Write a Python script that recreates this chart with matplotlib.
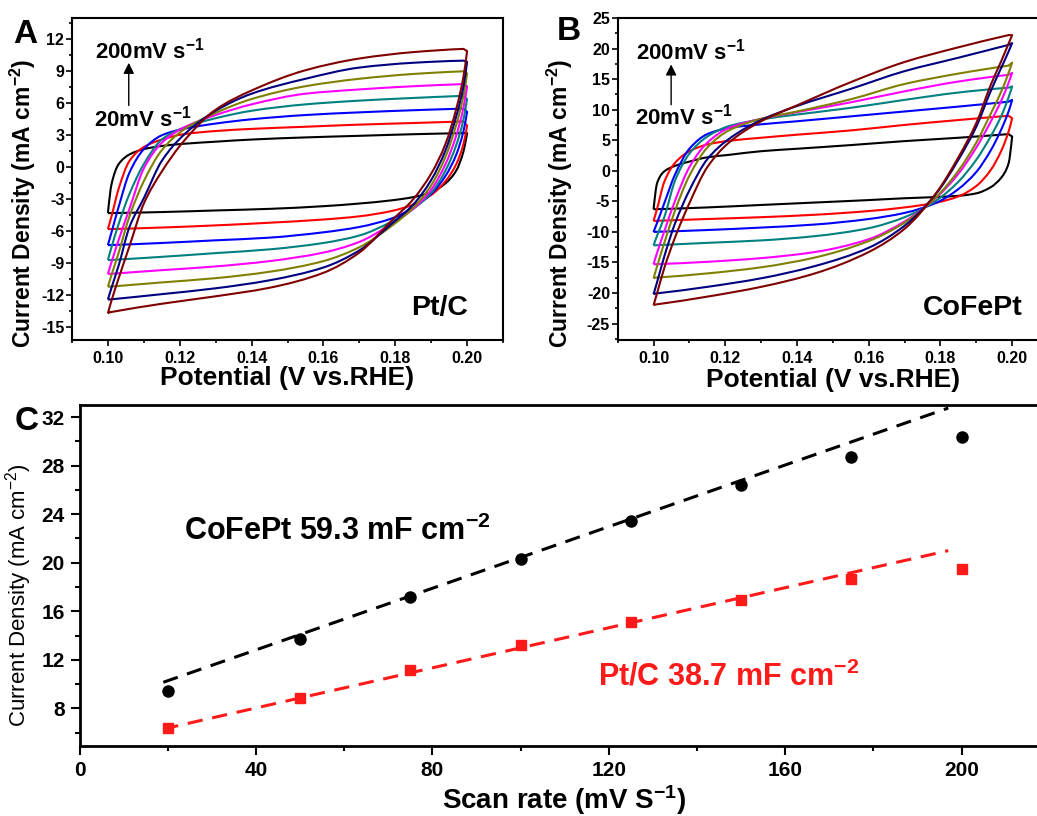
import numpy as np
import matplotlib
matplotlib.use("Agg")
import matplotlib.pyplot as plt
from matplotlib.ticker import MultipleLocator, FormatStrFormatter
from matplotlib.path import Path
from matplotlib.patches import PathPatch

plt.rcParams['font.family'] = ['Liberation Sans', 'DejaVu Sans']
plt.rcParams['axes.unicode_minus'] = False
plt.rcParams['mathtext.fontset'] = 'custom'
plt.rcParams['mathtext.rm'] = 'Liberation Sans'
plt.rcParams['mathtext.bf'] = 'Liberation Sans:bold'
plt.rcParams['mathtext.default'] = 'regular'

# ---------------- data ----------------
scan_rates_cv = [20, 50, 75, 100, 125, 150, 175, 200]
cv_colors = ['#000000', '#ff0000', '#0000ff', '#008080',
             '#ff00ff', '#808000', '#000080', '#800000']

# potentials (V vs RHE) at which the curves were read
E_anodic = [0.100, 0.101, 0.103, 0.106, 0.110, 0.115, 0.121, 0.130,
            0.140, 0.155, 0.170, 0.185, 0.199]
E_cathodic = [0.200, 0.199, 0.197, 0.194, 0.190, 0.185, 0.179, 0.170,
              0.160, 0.145, 0.130, 0.115, 0.1005]

# Pt/C current densities (mA cm-2), one row per scan rate
ptc_anodic = [
    [-4.3, -1.6, 0.3, 1.2, 1.7, 2.0, 2.2, 2.4, 2.6, 2.8, 2.95, 3.1, 3.2],
    [-5.8, -4.6, -2.0, 0.6, 1.9, 2.6, 3.1, 3.4, 3.6, 3.8, 4.0, 4.15, 4.3],
    [-7.3, -6.1, -3.7, -0.5, 1.7, 3.0, 3.6, 4.1, 4.5, 4.9, 5.15, 5.35, 5.5],
    [-8.7, -7.5, -5.3, -2.5, 0.3, 2.6, 3.7, 4.6, 5.3, 5.9, 6.25, 6.5, 6.7],
    [-10.0, -8.9, -6.8, -3.9, -0.1, 2.3, 3.7, 4.9, 5.9, 6.9, 7.3, 7.6, 7.8],
    [-11.2, -10.1, -8.0, -4.6, -1.3, 1.6, 3.5, 5.1, 6.4, 7.6, 8.3, 8.75, 9.0],
    [-12.4, -11.3, -9.2, -5.6, -2.9, 0.6, 3.0, 5.3, 6.9, 8.3, 9.35, 9.8, 10.0],
    [-13.7, -12.5, -10.4, -7.4, -3.4, -0.4, 2.4, 5.4, 7.2, 9.1, 10.2, 10.8, 11.1],
]
ptc_cathodic = [
    [3.2, 1.5, -0.3, -1.5, -2.35, -2.8, -3.1, -3.4, -3.65, -3.9, -4.05, -4.2, -4.3],
    [3.9, 2.2, 0.3, -1.3, -2.6, -3.5, -4.1, -4.6, -4.9, -5.2, -5.45, -5.65, -5.8],
    [5.2, 3.4, 1.2, -0.8, -2.5, -3.8, -4.8, -5.6, -6.1, -6.6, -6.85, -7.1, -7.3],
    [6.4, 4.5, 2.1, -0.3, -2.4, -3.9, -5.1, -6.4, -7.1, -7.7, -8.05, -8.4, -8.7],
    [7.6, 5.6, 3.0, 0.3, -2.1, -3.9, -5.3, -7.0, -8.0, -8.8, -9.3, -9.65, -10.0],
    [8.8, 6.7, 4.0, 1.0, -1.7, -3.8, -5.5, -7.5, -8.8, -9.8, -10.4, -10.8, -11.2],
    [9.9, 7.6, 4.8, 1.6, -1.2, -3.5, -5.3, -7.8, -9.4, -10.6, -11.35, -11.9, -12.4],
    [10.9, 8.5, 5.5, 2.2, -0.6, -3.0, -5.0, -8.0, -9.9, -11.3, -12.1, -12.8, -13.6],
]

# CoFePt current densities (mA cm-2)
cofept_anodic = [
    [-6.3, -2.0, -0.1, 0.8, 1.5, 2.2, 2.6, 3.2, 3.6, 4.2, 4.85, 5.4, 6.0],
    [-8.2, -6.2, -1.8, 1.3, 3.2, 4.3, 4.9, 5.4, 5.9, 6.6, 7.5, 8.3, 9.0],
    [-10.0, -8.5, -5.3, -0.6, 3.6, 6.0, 7.0, 7.6, 8.1, 8.9, 9.7, 10.5, 11.3],
    [-12.2, -10.6, -7.6, -1.6, 2.8, 5.6, 7.3, 8.4, 9.2, 10.3, 11.6, 12.8, 13.6],
    [-15.3, -13.4, -9.9, -4.9, 0.6, 4.6, 7.0, 8.5, 9.6, 11.2, 13.0, 14.6, 15.7],
    [-17.6, -15.6, -11.8, -6.5, -0.8, 3.8, 6.6, 8.5, 9.7, 11.7, 14.2, 15.9, 17.2],
    [-20.2, -18.2, -14.0, -8.6, -3.2, 1.9, 5.2, 8.3, 10.6, 13.4, 16.3, 18.5, 20.6],
    [-22.0, -20.0, -15.9, -10.9, -5.3, 0.6, 4.6, 8.1, 10.7, 14.5, 17.8, 20.2, 22.2],
]
cofept_cathodic = [
    [5.6, 1.2, -1.1, -2.7, -3.7, -4.1, -4.3, -4.5, -4.8, -5.2, -5.6, -6.0, -6.3],
    [8.6, 6.4, 3.3, 0.1, -2.5, -4.2, -5.2, -6.0, -6.6, -7.2, -7.6, -7.9, -8.2],
    [11.6, 9.7, 6.8, 3.3, -0.2, -3.0, -5.2, -6.9, -7.9, -8.8, -9.3, -9.7, -10.0],
    [13.8, 12.0, 9.0, 5.6, 1.8, -1.8, -4.8, -7.6, -9.4, -10.7, -11.4, -11.8, -12.2],
    [16.0, 14.4, 11.5, 8.0, 3.8, -0.5, -4.3, -8.3, -11.2, -13.3, -14.3, -14.9, -15.3],
    [17.7, 16.0, 13.0, 9.3, 4.6, 0.0, -4.2, -8.5, -11.5, -14.2, -15.8, -16.8, -17.5],
    [20.9, 19.5, 16.9, 13.0, 7.2, 1.8, -3.6, -9.0, -12.6, -15.6, -17.6, -19.0, -20.1],
    [22.2, 20.8, 18.0, 14.0, 7.8, 2.2, -3.5, -9.5, -13.3, -16.8, -19.0, -20.6, -21.9],
]

# panel C
scan_rate = [20, 50, 75, 100, 125, 150, 175, 200]
cofept_dj = [9.45, 13.7, 17.2, 20.3, 23.45, 26.4, 28.7, 30.35]
ptc_dj = [6.4, 8.85, 11.15, 13.2, 15.1, 16.9, 18.7, 19.5]
fit_x = [19, 197]
fit_cofept = [10.15, 32.75]
fit_ptc = [6.3, 21.0]

# ---------------- helpers ----------------
W, H = 1037, 816


def px_box(left, top, right, bottom):
    return [left / W, 1 - bottom / H, (right - left) / W, (bottom - top) / H]


def pchip_slopes(x, y):
    x = np.asarray(x, float)
    y = np.asarray(y, float)
    h = np.diff(x)
    d = np.diff(y) / h
    n = len(x)
    m = np.zeros(n)
    for k in range(1, n - 1):
        if d[k - 1] * d[k] <= 0:
            m[k] = 0.0
        else:
            w1 = 2 * h[k] + h[k - 1]
            w2 = h[k] + 2 * h[k - 1]
            m[k] = (w1 + w2) / (w1 / d[k - 1] + w2 / d[k])

    def end(h0, h1, d0, d1):
        s = ((2 * h0 + h1) * d0 - h0 * d1) / (h0 + h1)
        if np.sign(s) != np.sign(d0):
            s = 0.0
        elif np.sign(d0) != np.sign(d1) and abs(s) > abs(3 * d0):
            s = 3 * d0
        return s

    m[0] = end(h[0], h[1], d[0], d[1])
    m[-1] = end(h[-1], h[-2], d[-1], d[-2])
    return m


def branch_bezier(x, y):
    """Smooth (monotone Hermite) rendering of the read points as Bezier segments."""
    m = pchip_slopes(x, y)
    verts, codes = [], []
    for i in range(len(x) - 1):
        h = x[i + 1] - x[i]
        verts += [(x[i] + h / 3, y[i] + m[i] * h / 3),
                  (x[i + 1] - h / 3, y[i + 1] - m[i + 1] * h / 3),
                  (x[i + 1], y[i + 1])]
        codes += [Path.CURVE4] * 3
    return verts, codes


def draw_cv(ax, anodic, cathodic):
    for an, ca, col in zip(anodic, cathodic, cv_colors):
        verts = [(E_anodic[0], an[0])]
        codes = [Path.MOVETO]
        v, c = branch_bezier(E_anodic, an)
        verts += v
        codes += c
        verts.append((E_cathodic[0], ca[0]))
        codes.append(Path.LINETO)
        v, c = branch_bezier(E_cathodic, ca)
        verts += v
        codes += c
        verts.append((E_anodic[0], an[0]))
        codes.append(Path.LINETO)
        ax.add_patch(PathPatch(Path(verts, codes), facecolor='none',
                               edgecolor=col, lw=1.5, joinstyle='round'))


def style_top(ax, ymin, ymax, ymaj, ymin_step):
    ax.set_xlim(0.09, 0.21)
    ax.set_ylim(ymin, ymax)
    ax.xaxis.set_major_locator(MultipleLocator(0.02))
    ax.xaxis.set_minor_locator(MultipleLocator(0.01))
    ax.xaxis.set_major_formatter(FormatStrFormatter('%.2f'))
    ax.yaxis.set_major_locator(MultipleLocator(ymaj))
    ax.yaxis.set_minor_locator(MultipleLocator(ymin_step))
    ax.tick_params(which='both', direction='out', top=False, right=False,
                   width=1.2)
    ax.tick_params(which='major', length=4)
    ax.tick_params(which='minor', length=2.5)
    ax.tick_params(axis='x', which='major', labelsize=11.5, pad=4)
    ax.tick_params(axis='y', which='major', labelsize=11.5, pad=1.5)
    for lab in ax.get_xticklabels() + ax.get_yticklabels():
        lab.set_fontweight('bold')
    for sp in ax.spines.values():
        sp.set_linewidth(1.5)


# ---------------- figure ----------------
fig = plt.figure(figsize=(W / 100, H / 100), dpi=100)

# Panel A
axA = fig.add_axes(px_box(72, 18, 503, 340))
draw_cv(axA, ptc_anodic, ptc_cathodic)
style_top(axA, -16.2, 14, 3, 1.5)
axA.set_xlabel('Potential (V vs.RHE)', fontsize=19, fontweight='bold')
axA.xaxis.set_label_coords(0.5, -0.08)
axA.set_ylabel('Current Density (mA cm$^{-2}$)', fontsize=16.5, fontweight='bold')
axA.yaxis.set_label_coords(-0.079, 0.425)
axA.text(0.0965, 10.2, '200mV s$^{-1}$', fontsize=16, fontweight='bold')
axA.text(0.0961, 3.85, '20mV s$^{-1}$', fontsize=16, fontweight='bold')
axA.annotate('', xy=(0.1058, 9.8), xytext=(0.1058, 5.8),
             arrowprops=dict(arrowstyle='-|>', color='black', lw=1.0,
                             mutation_scale=16, shrinkA=0, shrinkB=0))
axA.text(0.2002, -13.9, 'Pt/C', fontsize=20.5, fontweight='bold', ha='right')

# Panel B
axB = fig.add_axes(px_box(617.7, 18, 1048, 340))
draw_cv(axB, cofept_anodic, cofept_cathodic)
style_top(axB, -27.7, 25, 5, 2.5)
axB.set_xlabel('Potential (V vs.RHE)', fontsize=19, fontweight='bold')
axB.xaxis.set_label_coords(0.5, -0.088)
axB.set_ylabel('Current Density (mA cm$^{-2}$)', fontsize=16.5, fontweight='bold')
axB.yaxis.set_label_coords(-0.099, 0.425)
axB.text(0.0952, 18.2, '200mV s$^{-1}$', fontsize=16, fontweight='bold')
axB.text(0.0949, 7.5, '20mV s$^{-1}$', fontsize=16, fontweight='bold')
axB.annotate('', xy=(0.1049, 17.4), xytext=(0.1049, 10.8),
             arrowprops=dict(arrowstyle='-|>', color='black', lw=1.0,
                             mutation_scale=16, shrinkA=0, shrinkB=0))
axB.text(0.2028, -23.6, 'CoFePt', fontsize=20.5, fontweight='bold', ha='right')

# Panel C
axC = fig.add_axes(px_box(79.5, 405, 1049.7, 746))
axC.plot(fit_x, fit_cofept, color='black', lw=2.2, dashes=(5, 3.2))
axC.plot(fit_x, fit_ptc, color='#ff1a1a', lw=2.2, dashes=(5, 3.2))
axC.plot(scan_rate, cofept_dj, 'o', color='black', ms=8)
axC.plot(scan_rate, ptc_dj, 's', color='#ff1a1a', ms=7)
axC.set_xlim(0, 220)
axC.set_ylim(4.9, 33.0)
axC.xaxis.set_major_locator(MultipleLocator(40))
axC.xaxis.set_minor_locator(MultipleLocator(20))
axC.yaxis.set_major_locator(MultipleLocator(4))
axC.yaxis.set_minor_locator(MultipleLocator(2))
axC.tick_params(which='both', direction='out', top=False, right=False, width=1.5)
axC.tick_params(which='major', length=6.5, labelsize=15, pad=4)
axC.tick_params(which='minor', length=3.5)
for lab in axC.get_xticklabels() + axC.get_yticklabels():
    lab.set_fontweight('bold')
for sp in axC.spines.values():
    sp.set_linewidth(2)
axC.set_xlabel('Scan rate (mV S$^{-1}$)', fontsize=20, fontweight='bold')
axC.xaxis.set_label_coords(0.5, -0.108)
axC.set_ylabel('Current Density (mA cm$^{-2}$)', fontsize=16)
axC.yaxis.set_label_coords(-0.047, 0.443)
axC.text(23.8, 21.85, 'CoFePt 59.3 mF cm$^{-2}$', fontsize=22, fontweight='bold',
         color='black')
axC.text(117.5, 9.9, 'Pt/C 38.7 mF cm$^{-2}$', fontsize=22, fontweight='bold',
         color='#ff1a1a')

# panel letters
fig.text(13 / W, 1 - 43 / H, 'A', fontsize=24, fontweight='bold')
fig.text(557 / W, 1 - 40 / H, 'B', fontsize=24, fontweight='bold')
fig.text(15 / W, 1 - 430 / H, 'C', fontsize=24, fontweight='bold')

fig.savefig('out.png', dpi=100)
